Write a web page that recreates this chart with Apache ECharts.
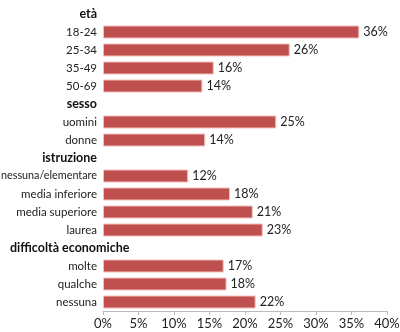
<!DOCTYPE html>
<html><head><meta charset="utf-8">
<script src="https://cdn.jsdelivr.net/npm/echarts@6/dist/echarts.min.js"></script>
<style>html,body{margin:0;padding:0;background:#fff}#c{width:400px;height:332px}</style>
</head><body><div id="c"></div>
<script>
var categories = ['età','18-24','25-34','35-49','50-69','sesso','uomini','donne','istruzione','nessuna/elementare','media inferiore','media superiore','laurea','difficoltà economiche','molte','qualche','nessuna'];
var headers = ['età','sesso','istruzione','difficoltà economiche'];
var values = [null,36.1,26.3,15.6,14.0,null,24.4,14.4,null,12.0,17.9,21.1,22.5,null,17.0,17.4,21.5];
var labels = [null,'36%','26%','16%','14%',null,'25%','14%',null,'12%','18%','21%','23%',null,'17%','18%','22%'];
var xTicks = [0,5,10,15,20,25,30,35,40];

var FONT = 'Lato, sans-serif';
var catData = categories.map(function(c){
  return c==='nessuna/elementare' ? {value:c,textStyle:{fontSize:10.8}} : c;
});
var chart = echarts.init(document.getElementById('c'), null, {renderer:'canvas'});
chart.setOption({
  animation:false,
  grid:{left:103,right:13,top:5,bottom:21,containLabel:false,outerBoundsMode:'none'},
  xAxis:{type:'value',min:xTicks[0],max:xTicks[xTicks.length-1],interval:5,
    axisLine:{show:true,lineStyle:{color:'#bbb'}},
    axisTick:{show:true,length:4,lineStyle:{color:'#bbb'}},
    splitLine:{show:false},
    axisLabel:{formatter:'{value}%',fontFamily:FONT,fontSize:13,color:'#222',margin:6,hideOverlap:false}},
  yAxis:[{type:'category',inverse:true,data:catData,
    axisLine:{show:false},axisTick:{show:false},
    axisLabel:{interval:0,margin:6,fontFamily:FONT,fontSize:11.5,color:'#222',hideOverlap:false,overflow:'none',width:200,
      formatter:function(v){
        if(v==='difficoltà economiche') return '';
        return headers.indexOf(v)>=0 ? '{h|'+v+'}' : v;},
      rich:{h:{fontFamily:FONT,fontSize:12.5,fontWeight:'bold',color:'#111'}}}},
    {type:'category',inverse:true,data:categories,position:'left',
    axisLine:{show:false},axisTick:{show:false},
    axisLabel:{interval:0,margin:93,align:'left',fontFamily:FONT,fontSize:12.5,fontWeight:'bold',color:'#111',hideOverlap:false,overflow:'none',width:200,
      formatter:function(v){return v==='difficoltà economiche' ? '{h|'+v+'}' : '';},
      rich:{h:{fontFamily:FONT,fontSize:12.5,fontWeight:'bold',color:'#111'}}}}],
  series:[{type:'bar',data:values,barWidth:13,
    itemStyle:{color:'#c0504d',borderColor:'#f0c0c0',borderWidth:1},
    label:{show:true,position:'right',distance:4,fontFamily:FONT,fontSize:12.5,color:'#222',
      formatter:function(p){return labels[p.dataIndex]||'';}}}]
});
</script></body></html>
